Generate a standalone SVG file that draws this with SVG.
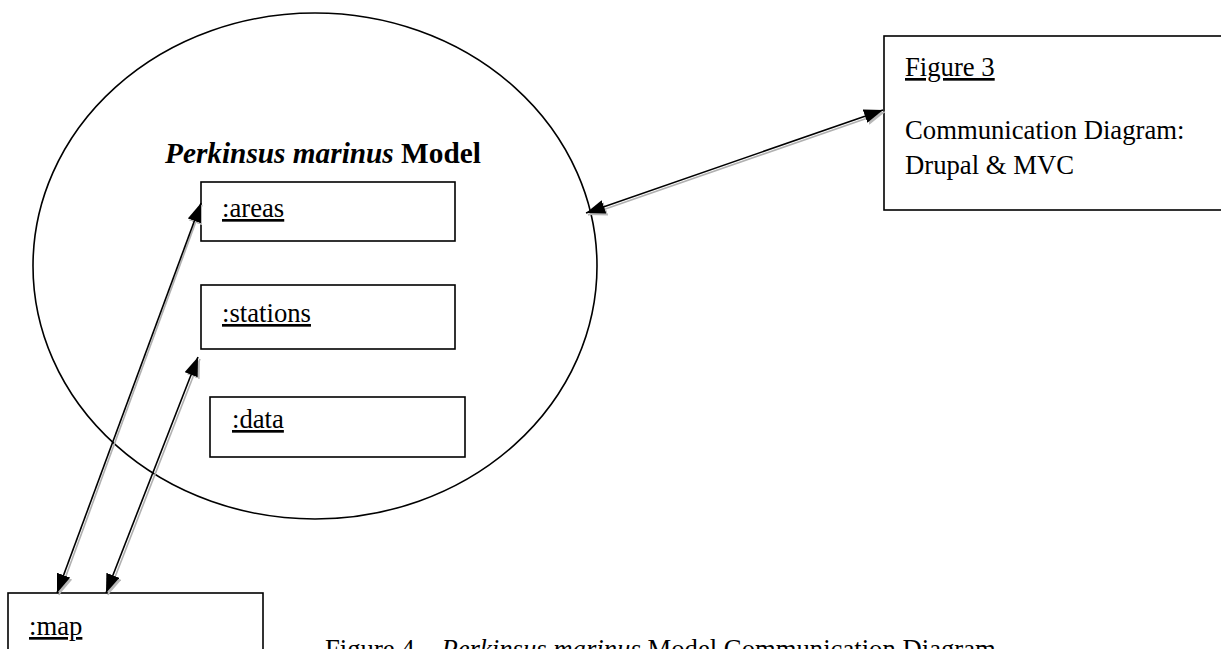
<svg xmlns="http://www.w3.org/2000/svg" width="1221" height="649" viewBox="0 0 1221 649">
<style>
.t{font-family:"Liberation Serif","Times New Roman",serif;font-size:26.7px;fill:#000}
.u{text-decoration:underline}
.box{fill:#fff;stroke:#000;stroke-width:1.6}
.ln{stroke:#000;stroke-width:1.6;fill:none}
.sh{stroke:#b0b0b0;stroke-width:1.6;fill:none}
</style>
<defs>
<marker id="ah" markerUnits="userSpaceOnUse" markerWidth="19" markerHeight="14" refX="19" refY="7" orient="auto-start-reverse">
<path d="M0,0 L19,7 L0,14 Z" fill="#000"/>
</marker>
<marker id="ahs" markerUnits="userSpaceOnUse" markerWidth="19" markerHeight="14" refX="19" refY="7" orient="auto-start-reverse">
<path d="M0,0 L19,7 L0,14 Z" fill="#b8b8b8"/>
</marker>
</defs>
<rect width="1221" height="649" fill="#fff"/>
<g id="model">
<ellipse cx="315" cy="266" rx="282" ry="253" fill="none" stroke="#000" stroke-width="1.6"/>
<text class="t" x="165" y="163" font-weight="bold" style="font-size:29.3px"><tspan font-style="italic">Perkinsus marinus</tspan> Model</text>
</g>
<g id="areas">
<rect class="box" x="201" y="182" width="254" height="59"/>
<text class="t u" x="222" y="217">:areas</text>
</g>
<g id="stations">
<rect class="box" x="201" y="285" width="254" height="64"/>
<text class="t u" x="222" y="322">:stations</text>
</g>
<g id="data">
<rect class="box" x="210" y="397" width="255" height="60"/>
<text class="t u" x="232" y="428">:data</text>
</g>
<g id="map">
<rect class="box" x="8" y="593" width="255" height="80"/>
<text class="t u" x="29" y="635">:map</text>
</g>
<g id="figure3">
<rect class="box" x="884" y="36" width="345" height="174"/>
<text class="t u" x="905" y="76">Figure 3</text>
<text class="t" x="905" y="139">Communication Diagram:</text>
<text class="t" x="905" y="174">Drupal &amp; MVC</text>
</g>
<g id="connectors">
<line class="sh" x1="588" y1="215" x2="885" y2="112" marker-start="url(#ahs)" marker-end="url(#ahs)"/>
<line class="sh" x1="202" y1="205" x2="59" y2="595" marker-start="url(#ahs)" marker-end="url(#ahs)"/>
<line class="sh" x1="200" y1="359" x2="108" y2="595" marker-start="url(#ahs)" marker-end="url(#ahs)"/>
<line class="ln" x1="586" y1="213" x2="883" y2="110" marker-start="url(#ah)" marker-end="url(#ah)"/>
<line class="ln" x1="201" y1="203" x2="57" y2="593" marker-start="url(#ah)" marker-end="url(#ah)"/>
<line class="ln" x1="198" y1="357" x2="106" y2="593" marker-start="url(#ah)" marker-end="url(#ah)"/>
</g>
<text class="t" x="325" y="658">Figure 4 – <tspan font-style="italic">Perkinsus marinus</tspan> Model Communication Diagram</text>
</svg>
